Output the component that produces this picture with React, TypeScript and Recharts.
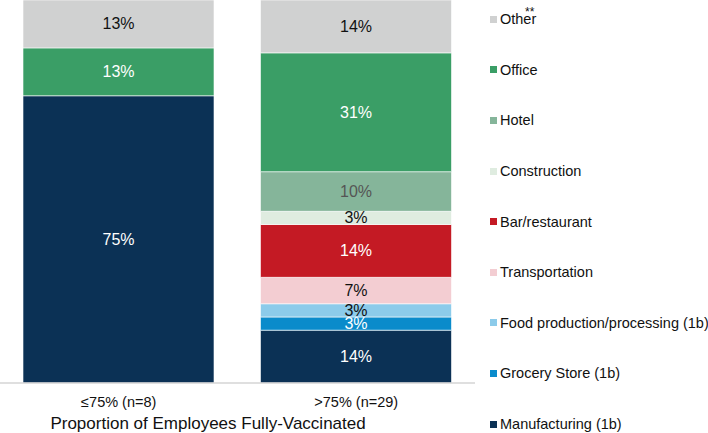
import { Bar, BarChart, Label, LabelList, Legend, XAxis, YAxis } from "recharts"

const groups = ["≤75% (n=8)", ">75% (n=29)"]

// percent of outbreaks per setting, bottom of stack first
const manufacturing = [75, 13.79]
const groceryStore = [0, 3.45]
const foodProduction = [0, 3.45]
const transportation = [0, 6.9]
const barRestaurant = [0, 13.79]
const construction = [0, 3.45]
const hotel = [0, 10.34]
const office = [12.5, 31.03]
const other = [12.5, 13.79]

const series = [
    { key: "manufacturing", name: "Manufacturing (1b)", values: manufacturing, color: "#0b3155", text: "#ffffff" },
    { key: "grocery", name: "Grocery Store (1b)", values: groceryStore, color: "#0a8bcb", text: "#ffffff" },
    { key: "food", name: "Food production/processing (1b)", values: foodProduction, color: "#8ccbea", text: "#111111" },
    { key: "transportation", name: "Transportation", values: transportation, color: "#f3cdd2", text: "#111111" },
    { key: "bar", name: "Bar/restaurant", values: barRestaurant, color: "#c41a24", text: "#ffffff" },
    { key: "construction", name: "Construction", values: construction, color: "#dfece0", text: "#111111" },
    { key: "hotel", name: "Hotel", values: hotel, color: "#85b59a", text: "#555555" },
    { key: "office", name: "Office", values: office, color: "#3a9e66", text: "#ffffff" },
    { key: "other", name: "Other", values: other, color: "#d0d1d1", text: "#111111" },
]

const data = groups.map((group, i) => {
    const row: Record<string, string | number> = { group }
    series.forEach((s) => {
        row[s.key] = s.values[i]
    })
    return row
})

const font = "'Liberation Sans', Arial, sans-serif"

const segmentLabel = (color: string) => (props: any) => {
    const { x, y, width, height, value } = props
    if (!value) return null
    return (
        <text
            x={Number(x) + Number(width) / 2}
            y={Number(y) + Number(height) / 2}
            fill={color}
            textAnchor="middle"
            dominantBaseline="central"
            fontSize={16}
            fontFamily={font}
        >
            {Math.round(value)}%
        </text>
    )
}

function LegendList() {
    return (
        <div style={{ fontFamily: font, fontSize: 14.5, color: "#111" }}>
            {[...series].reverse().map((s) => (
                <div key={s.key} style={{ height: 50.6, display: "flex", alignItems: "center" }}>
                    <span style={{ width: 7, height: 7, background: s.color, marginRight: 3, flexShrink: 0 }} />
                    <span style={{ position: "relative", whiteSpace: "nowrap" }}>
                        {s.name}
                        {s.key === "other" && (
                            <span style={{ position: "absolute", left: 25, top: -6, fontSize: 12 }}>**</span>
                        )}
                    </span>
                </div>
            ))}
        </div>
    )
}

export default function App() {
    return (
        <div style={{ position: "absolute", top: 0, left: 0, width: 708, height: 433, background: "#fff" }}>
            <BarChart
                width={708}
                height={433}
                data={data}
                margin={{ top: 0, right: 233, left: 0, bottom: 0 }}
                barSize={191}
            >
                <XAxis
                    dataKey="group"
                    height={50}
                    tickLine={false}
                    tickMargin={8}
                    axisLine={{ stroke: "#d4d4d4", strokeWidth: 1.5 }}
                    tick={{ fill: "#111", fontSize: 14.5, fontFamily: font }}
                >
                    <Label
                        content={({ viewBox }: any) => (
                            <text
                                x={viewBox.x + viewBox.width * 0.438}
                                y={viewBox.y + viewBox.height - 4}
                                textAnchor="middle"
                                fill="#111"
                                fontSize={17}
                                fontFamily={font}
                            >
                                Proportion of Employees Fully-Vaccinated
                            </text>
                        )}
                    />
                </XAxis>
                <YAxis hide domain={[0, 100]} />
                <Legend
                    layout="horizontal"
                    verticalAlign="middle"
                    align="center"
                    content={() => <LegendList />}
                    wrapperStyle={{ left: 490, top: -6, width: 218 }}
                />
                {series.map((s) => (
                    <Bar
                        key={s.key}
                        dataKey={s.key}
                        name={s.name}
                        stackId="a"
                        fill={s.color}
                        stroke="#ffffff"
                        strokeWidth={0.6}
                        isAnimationActive={false}
                    >
                        <LabelList dataKey={s.key} content={segmentLabel(s.text)} />
                    </Bar>
                ))}
            </BarChart>
        </div>
    )
}
